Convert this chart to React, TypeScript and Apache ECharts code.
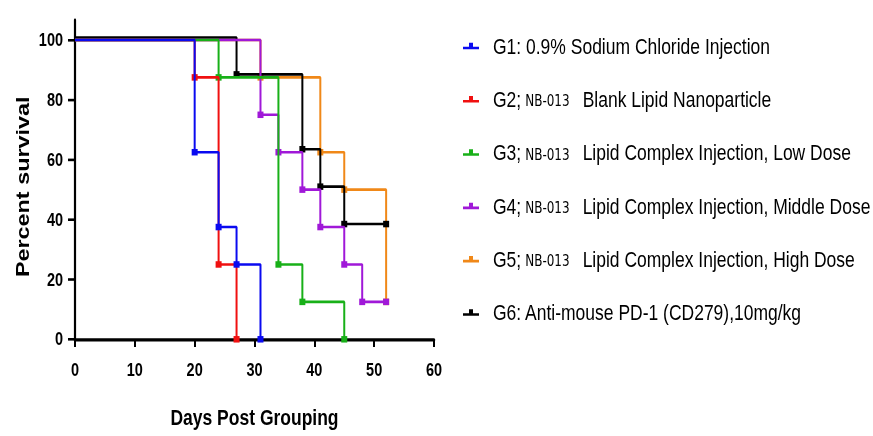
import React, { useEffect, useRef } from "react";
import * as echarts from "echarts";

const seriesNames = [
  "G1: 0.9% Sodium Chloride Injection",
  "G2;NB-013 Blank Lipid Nanoparticle",
  "G3;NB-013 Lipid Complex Injection, Low Dose",
  "G4;NB-013 Lipid Complex Injection, Middle Dose",
  "G5;NB-013 Lipid Complex Injection, High Dose",
  "G6: Anti-mouse PD-1 (CD279),10mg/kg",
];
const legendParts = [
  ["G1: 0.9% Sodium Chloride Injection", "", ""],
  ["G2;", "NB-013", "Blank Lipid Nanoparticle"],
  ["G3;", "NB-013", "Lipid Complex Injection, Low Dose"],
  ["G4;", "NB-013", "Lipid Complex Injection, Middle Dose"],
  ["G5;", "NB-013", "Lipid Complex Injection, High Dose"],
  ["G6: Anti-mouse PD-1 (CD279),10mg/kg", "", ""],
];
const colors = ["#0a0af0", "#f01010", "#18b018", "#a018d8", "#f08818", "#000000"];

const g1Days = [0, 20, 24, 27, 31];
const g1Surv = [100, 62.5, 37.5, 25, 0];
const g2Days = [0, 20, 24, 27];
const g2Surv = [100, 87.5, 25, 0];
const g3Days = [0, 24, 34, 38, 45];
const g3Surv = [100, 87.5, 25, 12.5, 0];
const g4Days = [0, 31, 34, 38, 41, 45, 48, 52];
const g4Surv = [100, 75, 62.5, 50, 37.5, 25, 12.5, 12.5];
const g5Days = [0, 31, 41, 45, 52];
const g5Surv = [100, 87.5, 62.5, 50, 12.5];
const g6Days = [0, 27, 38, 41, 45, 52];
const g6Surv = [100.8, 88.5, 63.5, 51, 38.5, 38.5];

const allDays = [g1Days, g2Days, g3Days, g4Days, g5Days, g6Days];
const allSurv = [g1Surv, g2Surv, g3Surv, g4Surv, g5Surv, g6Surv];
const zOrder = [9, 8, 7, 6, 4, 5];

const xTicks = [0, 10, 20, 30, 40, 50, 60];
const yTicks = [0, 20, 40, 60, 80, 100];

// The reference picture is stretched vertically; draw unstretched, then stretch.
const S = 1.3;
const W = 873;
const H = 436 / S;
const SANS = "'Liberation Sans', Arial, Helvetica, sans-serif";

export default function App() {
  const ref = useRef<HTMLDivElement>(null);
  useEffect(() => {
    if (!ref.current) return;
    const chart = echarts.init(ref.current, undefined, { renderer: "svg" });
    const series = seriesNames.map((name, i) => ({
      name,
      type: "line",
      step: "end",
      z: zOrder[i],
      color: colors[i],
      lineStyle: { width: 2, color: colors[i] },
      symbol: "rect",
      symbolSize: [6, 5],
      itemStyle: { color: colors[i] },
      data: allDays[i].map((d, j) =>
        j === 0 ? { value: [d, allSurv[i][j]], symbol: "none" } : { value: [d, allSurv[i][j]] }
      ),
    }));
    chart.setOption({
      animation: false,
      grid: { left: 75, right: 439, top: 20 / S, bottom: 96 / S, containLabel: false },
      xAxis: {
        type: "value",
        min: 0,
        max: 60,
        interval: 10,
        name: "Days Post Grouping",
        nameLocation: "middle",
        nameGap: 51,
        nameTextStyle: { fontFamily: SANS, fontWeight: "bold", fontSize: 17.5, color: "#000" },
        axisLine: { lineStyle: { color: "#000", width: 2.5 } },
        axisTick: { show: true, length: 6, lineStyle: { color: "#000", width: 2 }, customValues: xTicks },
        axisLabel: { fontFamily: SANS, fontWeight: "bold", fontSize: 14.5, color: "#000", margin: 16, customValues: xTicks },
        splitLine: { show: false },
      },
      yAxis: {
        type: "value",
        min: 0,
        max: 106.67,
        interval: 20,
        name: "Percent survival",
        nameLocation: "middle",
        nameGap: 43.5,
        nameRotate: 90,
        nameTextStyle: { fontFamily: SANS, fontWeight: "bold", fontSize: 18, color: "#000", padding: [0, 11, 0, 0] },
        axisLine: { show: true, lineStyle: { color: "#000", width: 2.2 } },
        axisTick: { show: true, length: 7, lineStyle: { color: "#000", width: 2 }, customValues: yTicks },
        axisLabel: { fontFamily: SANS, fontWeight: "bold", fontSize: 14.5, color: "#000", margin: 12, customValues: yTicks },
        splitLine: { show: false },
      },
      legend: {
        orient: "vertical",
        left: 463,
        top: 26.4,
        padding: 0,
        itemGap: 23,
        itemWidth: 16,
        itemHeight: 5,
        icon: "path://M0,3H6V0H10V3H16V5H0Z",
        data: seriesNames,
        formatter: (name: string) => {
          const p = legendParts[seriesNames.indexOf(name)];
          if (!p[1]) return `{f|${p[0]}}`;
          return `{f|${p[0]}}{b|${p[1]}}{a|${p[2]}}`;
        },
        textStyle: {
          rich: {
            f: { fontFamily: SANS, fontSize: 17.5, color: "#000", lineHeight: 20, padding: [0, 0, 0, 9] },
            a: { fontFamily: SANS, fontSize: 17.5, color: "#000", lineHeight: 20 },
            b: { fontFamily: "'DejaVu Sans', sans-serif", fontSize: 12, color: "#000", lineHeight: 20, padding: [2, 13, 0, 4] },
          },
        },
      },
      series,
    });
    return () => chart.dispose();
  }, []);
  return (
    <div
      ref={ref}
      style={{
        position: "fixed",
        left: 0,
        top: 0,
        width: W,
        height: H,
        transform: `scaleY(${S})`,
        transformOrigin: "0 0",
      }}
    />
  );
}
